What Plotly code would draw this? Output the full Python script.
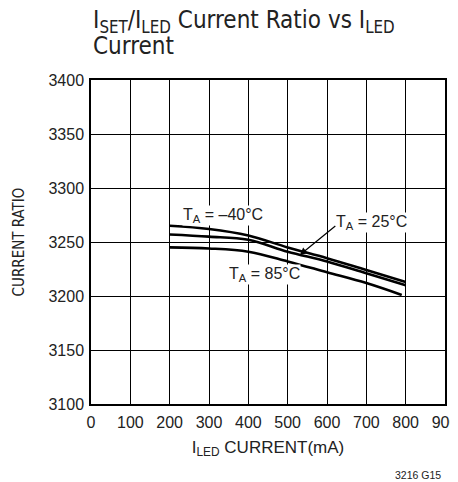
import plotly.graph_objects as go

# Data
i_led = [200, 300, 400, 500, 600, 700, 800]
ratio_m40 = [3265, 3262, 3256, 3245, 3235, 3224, 3213]
ratio_25 = [3257, 3255, 3252, 3241, 3232, 3221, 3210]
i_led_85 = [200, 300, 400, 500, 600, 700, 790]
ratio_85 = [3245, 3244, 3241, 3232, 3222, 3212, 3201]

x_ticks = [0, 100, 200, 300, 400, 500, 600, 700, 800, 900]
y_ticks = [3100, 3150, 3200, 3250, 3300, 3350, 3400]

FONT = "Liberation Sans, Arial, sans-serif"
COND = "DejaVu Sans Condensed, Liberation Sans Narrow, sans-serif"
line_style = dict(color="black", width=2.6, shape="spline")

fig = go.Figure()
fig.add_trace(go.Scatter(x=i_led, y=ratio_m40, mode="lines", line=line_style, showlegend=False))
fig.add_trace(go.Scatter(x=i_led, y=ratio_25, mode="lines", line=line_style, showlegend=False))
fig.add_trace(go.Scatter(x=i_led_85, y=ratio_85, mode="lines", line=line_style, showlegend=False))

lab_font = dict(family=FONT, size=16, color="#222")
fig.add_annotation(x=336, y=3275, text="T<sub>A</sub> = –40°C", showarrow=False, font=lab_font, bgcolor="white", borderpad=0)
fig.add_annotation(x=714, y=3268, text="T<sub>A</sub> = 25°C", showarrow=False, font=lab_font, bgcolor="white", borderpad=0)
fig.add_annotation(x=440, y=3220, text="T<sub>A</sub> = 85°C", showarrow=False, font=lab_font, bgcolor="white", borderpad=0)
fig.add_annotation(x=531, y=3238, ax=625, ay=3266, xref="x", yref="y", axref="x", ayref="y",
                   text="", showarrow=True, arrowhead=2, arrowsize=1.2, arrowwidth=1.2, arrowcolor="black")

# Title (two lines)
title_font = dict(family=COND, size=24, color="#222")
fig.add_annotation(x=0, y=1.182, xref="paper", yref="paper", xanchor="left", yanchor="middle",
                   text="I<sub>SET</sub>/I<sub>LED</sub> Current Ratio vs I<sub>LED</sub>",
                   showarrow=False, font=title_font)
fig.add_annotation(x=0, y=1.105, xref="paper", yref="paper", xanchor="left", yanchor="middle",
                   text="Current", showarrow=False, font=title_font)

fig.add_annotation(x=0.994, y=-0.219, xref="paper", yref="paper", xanchor="right", yanchor="middle",
                   text="3216 G15", showarrow=False, font=dict(family=FONT, size=10.5, color="#222"))

axis_common = dict(showline=True, linecolor="black", linewidth=1.5, mirror=True,
                   showgrid=True, gridcolor="black", gridwidth=1, zeroline=False, automargin=False,
                   ticks="", ticklabeloverflow="allow",
                   tickfont=dict(family=FONT, size=16, color="#222"))

fig.update_layout(
    width=450, height=474,
    margin=dict(l=83, r=13, t=72, b=78),
    paper_bgcolor="white", plot_bgcolor="white",
    xaxis=dict(range=[0, 900], tickvals=x_ticks, ticklabelstandoff=3, **axis_common,
               title=dict(text="I<sub>LED</sub> CURRENT(mA)", standoff=11,
                          font=dict(family=FONT, size=17, color="#222"))),
    yaxis=dict(range=[3100, 3400], tickvals=y_ticks, ticklabelstandoff=2, **axis_common,
               title=dict(text="CURRENT RATIO", standoff=20,
                          font=dict(family=COND, size=15, color="#222"))),
)

fig.write_html("out.html")
